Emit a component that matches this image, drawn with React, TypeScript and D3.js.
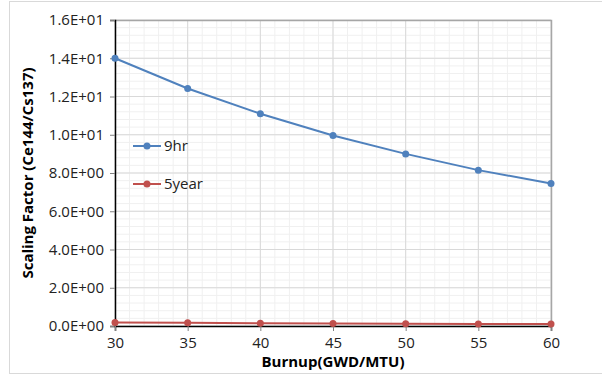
import React, { useEffect, useRef } from "react";
import * as d3 from "d3";

const burnup = [30, 35, 40, 45, 50, 55, 60];
const hr9 = [14.0, 12.42, 11.1, 9.96, 9.0, 8.15, 7.45];
const year5 = [0.185, 0.165, 0.147, 0.132, 0.119, 0.108, 0.099];
const yTicks = [0, 2, 4, 6, 8, 10, 12, 14, 16];

const series = [
    { name: "9hr", color: "#4f81bd", values: hr9 },
    { name: "5year", color: "#c0504d", values: year5 },
];

const W = 602;
const H = 376;
const font = "'Open Sans', 'Noto Sans', sans-serif";

const App: React.FC = () => {
    const svgRef = useRef<SVGSVGElement | null>(null);

    useEffect(() => {
        const root = d3.select(svgRef.current);
        root.selectAll("*").remove();

        const margin = { top: 20, right: 51, bottom: 50, left: 115 };
        const iw = W - margin.left - margin.right;
        const ih = H - margin.top - margin.bottom;

        // outer chart frame
        root.append("rect")
            .attr("x", 9.5).attr("y", 1.5)
            .attr("width", W).attr("height", 372)
            .attr("fill", "white").attr("stroke", "#d9d9d9");

        const g = root.append("g").attr("transform", `translate(${margin.left},${margin.top})`);

        const x = d3.scaleLinear().domain([30, 60]).range([0, iw]);
        const y = d3.scaleLinear().domain([0, 16]).range([ih, 0]);

        // minor grid
        g.append("g").selectAll("line")
            .data(d3.range(30, 60.01, 1))
            .enter().append("line")
            .attr("x1", (d) => x(d)).attr("x2", (d) => x(d))
            .attr("y1", 0).attr("y2", ih)
            .attr("stroke", "#f0f0f0");
        g.append("g").selectAll("line")
            .data(d3.range(0, 16.01, 0.4))
            .enter().append("line")
            .attr("x1", 0).attr("x2", iw)
            .attr("y1", (d) => y(d)).attr("y2", (d) => y(d))
            .attr("stroke", "#f0f0f0");
        // major grid
        g.append("g").selectAll("line")
            .data(burnup)
            .enter().append("line")
            .attr("x1", (d) => x(d)).attr("x2", (d) => x(d))
            .attr("y1", 0).attr("y2", ih)
            .attr("stroke", "#d9d9d9");
        g.append("g").selectAll("line")
            .data(yTicks)
            .enter().append("line")
            .attr("x1", 0).attr("x2", iw)
            .attr("y1", (d) => y(d)).attr("y2", (d) => y(d))
            .attr("stroke", "#d9d9d9");

        // top and right border
        g.append("path")
            .attr("d", `M0,0.5H${iw + 0.5}V${ih}`)
            .attr("fill", "none").attr("stroke", "#a6a6a6").attr("stroke-width", 1.5);

        // axes
        const yAxis = g.append("g")
            .call(d3.axisLeft(y).tickValues(yTicks).tickSize(5).tickPadding(6)
                .tickFormat((d) => {
                    const v = d as number;
                    if (v === 0) return "0.0E+00";
                    const e = Math.floor(Math.log10(v));
                    return `${(v / Math.pow(10, e)).toFixed(1)}E+${String(e).padStart(2, "0")}`;
                }));
        yAxis.select(".domain").attr("stroke", "#000").attr("stroke-width", 1.5);
        yAxis.selectAll(".tick line").attr("stroke", "#808080");
        yAxis.selectAll("text").attr("font-family", font).attr("font-size", 15).attr("fill", "#222");

        const xAxis = g.append("g")
            .attr("transform", `translate(0,${ih})`)
            .call(d3.axisBottom(x).tickValues(burnup).tickSize(5).tickPadding(6));
        xAxis.select(".domain").attr("stroke", "#000").attr("stroke-width", 1.5);
        xAxis.selectAll(".tick line").attr("stroke", "#808080");
        xAxis.selectAll("text").attr("font-family", font).attr("font-size", 15).attr("fill", "#222");

        const line = d3.line<number>()
            .x((_, i) => x(burnup[i]))
            .y((d) => y(d));

        series.forEach((s) => {
            g.append("path")
                .datum(s.values)
                .attr("fill", "none")
                .attr("stroke", s.color)
                .attr("stroke-width", 2)
                .attr("d", line);
            g.append("g").selectAll("circle")
                .data(s.values)
                .enter().append("circle")
                .attr("cx", (_, i) => x(burnup[i]))
                .attr("cy", (d) => y(d))
                .attr("r", 3.5)
                .attr("fill", s.color);
        });

        // legend
        const legend = root.append("g").attr("transform", "translate(133,146)");
        series.forEach((s, i) => {
            const row = legend.append("g").attr("transform", `translate(0,${i * 38})`);
            row.append("line").attr("x1", 0).attr("x2", 28).attr("y1", 0).attr("y2", 0)
                .attr("stroke", s.color).attr("stroke-width", 2);
            row.append("circle").attr("cx", 14).attr("cy", 0).attr("r", 3.5).attr("fill", s.color);
            row.append("text").attr("x", 31).attr("y", 0).attr("dy", "0.35em")
                .attr("font-family", font).attr("font-size", 15).attr("fill", "#222")
                .text(s.name);
        });

        // axis titles
        root.append("text")
            .attr("x", margin.left + iw / 2).attr("y", 367)
            .attr("text-anchor", "middle")
            .attr("font-family", font).attr("font-size", 15).attr("font-weight", "bold")
            .text("Burnup(GWD/MTU)");
        root.append("text")
            .attr("transform", `translate(33,${margin.top + ih / 2}) rotate(-90)`)
            .attr("text-anchor", "middle")
            .attr("font-family", font).attr("font-size", 15).attr("font-weight", "bold")
            .text("Scaling Factor (Ce144/Cs137)");
    }, []);

    return (
        <svg ref={svgRef} width={W} height={H}
            style={{ position: "absolute", left: 0, top: 0 }} />
    );
};

export default App;
